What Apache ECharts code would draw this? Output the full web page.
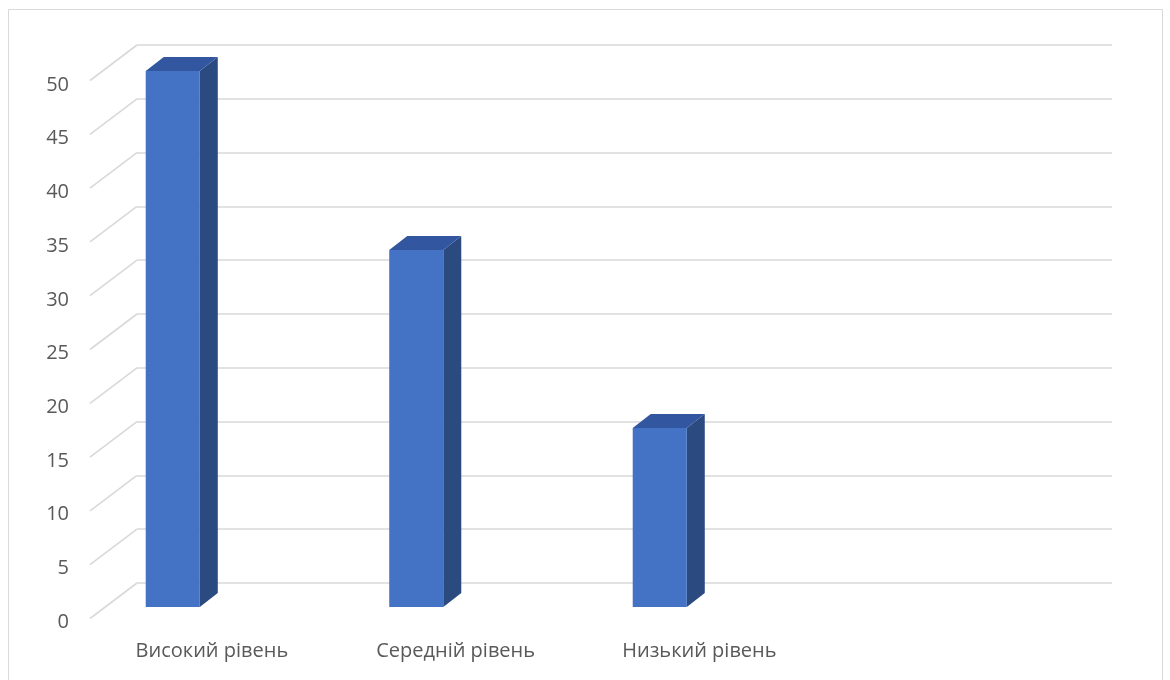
<!DOCTYPE html>
<html><head><meta charset="utf-8">
<script src="https://cdn.jsdelivr.net/npm/echarts@6/dist/echarts.min.js"></script>
<style>html,body{margin:0;padding:0;background:#fff}#c{width:1170px;height:680px}</style>
</head><body><div id="c"></div>
<script>
const categories = ['Високий рівень', 'Середній рівень', 'Низький рівень', ''];
const values = [50, 33.3, 16.7];
const yTicks = [0, 5, 10, 15, 20, 25, 30, 35, 40, 45, 50];

const chart = echarts.init(document.getElementById('c'));
const FONT = '"Open Sans", sans-serif';
const DX = 18, DY = 14;

chart.setOption({
  backgroundColor: '#fff',
  animation: false,
  graphic: [{type: 'rect', shape: {x: 8.5, y: 9.5, width: 1154, height: 690}, style: {fill: 'none', stroke: '#d9d9d9', lineWidth: 1}, z: -10}],
  grid: [
    {left: 137, right: 58, top: 45, bottom: 97},
    {left: 90, right: 105, top: 81, bottom: 62},
    {left: 51, right: 145, top: 71, bottom: 73},
    {left: 90, right: 105, top: 85, bottom: 58}
  ],
  xAxis: [
    {gridIndex: 0, type: 'category', data: categories, show: false},
    {gridIndex: 1, type: 'category', data: categories, axisLine: {show: false}, axisTick: {show: false},
     axisLabel: {color: '#595959', fontSize: 20, fontFamily: FONT, margin: 23}},
    {gridIndex: 2, type: 'category', data: categories, show: false},
    {gridIndex: 3, type: 'category', data: categories, show: false}
  ],
  yAxis: [
    {gridIndex: 0, type: 'value', min: 0, max: 50, interval: 5, axisLabel: {show: false}, axisLine: {show: false}, axisTick: {show: false},
     splitLine: {lineStyle: {color: '#d9d9d9', width: 1.6}}},
    {gridIndex: 1, type: 'value', min: 0, max: 50, interval: 5, show: false},
    {gridIndex: 2, type: 'value', min: 0, max: 50, interval: 5, show: false},
    {gridIndex: 3, type: 'value', min: 0, max: 50, interval: 5, splitLine: {show: false}, axisLine: {show: false}, axisTick: {show: false},
     axisLabel: {color: '#595959', fontSize: 20, fontFamily: FONT, margin: 21}}
  ],
  series: [
    {
      type: 'custom', xAxisIndex: 0, yAxisIndex: 0, silent: true,
      data: yTicks.map(v => [0, v]),
      renderItem: function (params, api) {
        const y = api.coord([0, api.value(1)])[1];
        const x = params.coordSys.x;
        return {type: 'line', shape: {x1: x, y1: y, x2: x - 47, y2: y + 35.5},
                style: {stroke: '#d9d9d9', lineWidth: 1.6}};
      }
    },
    {
      type: 'custom', xAxisIndex: 2, yAxisIndex: 2,
      data: values.map((v, i) => [i, v]),
      renderItem: function (params, api) {
        const top = api.coord([api.value(0), api.value(1)]);
        const bot = api.coord([api.value(0), 0]);
        const w = api.size([1, 0])[0] * 0.222;
        const x0 = top[0] - w / 2, x1 = top[0] + w / 2;
        const yt = top[1], yb = bot[1];
        return {type: 'group', children: [
          {type: 'polygon', shape: {points: [[x1, yt], [x1 + DX, yt - DY], [x1 + DX, yb - DY], [x1, yb]]},
           style: {fill: '#2a4a80'}},
          {type: 'polygon', shape: {points: [[x0, yt], [x0 + DX, yt - DY], [x1 + DX, yt - DY], [x1, yt]]},
           style: {fill: '#3257a0'}},
          {type: 'rect', shape: {x: x0, y: yt, width: w, height: yb - yt}, style: {fill: '#4472c4'}}
        ]};
      }
    }
  ]
});
</script></body></html>
